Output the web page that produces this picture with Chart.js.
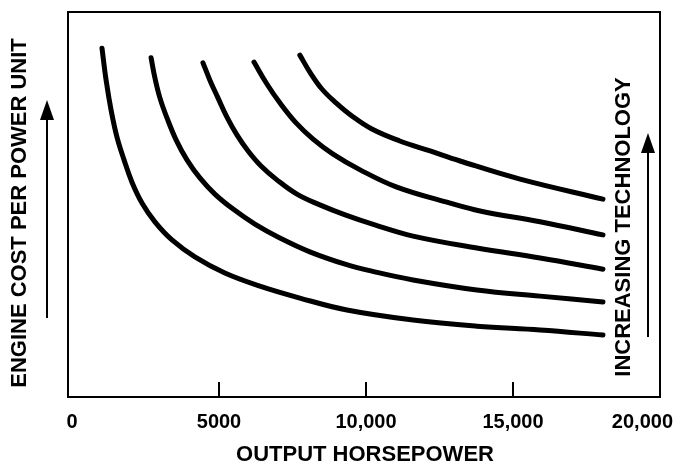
<!DOCTYPE html>
<html>
<head>
<meta charset="utf-8">
<script src="https://cdn.jsdelivr.net/npm/chart.js@4/dist/chart.umd.min.js"></script>
<style>
  html, body { margin: 0; padding: 0; background: #fff; }
  #wrap { width: 680px; height: 466px; }
</style>
</head>
<body>
<div id="wrap"><canvas id="chart"></canvas></div>
<script>
// x axis ticks
const tickValues = [0, 5000, 10000, 15000, 20000];
const tickLabels = ['0', '5000', '10,000', '15,000', '20,000'];

// each curve = one technology level (cost in arbitrary units 0..100)
const hp1 = [1020, 1160, 1330, 1530, 1770, 2040, 2380, 2820, 3400, 4180, 5200, 6390, 7750, 9350, 11600, 13770, 15920, 18060];
const cost1 = [90.6, 82.3, 74.5, 67.5, 61.6, 55.8, 50.4, 45.5, 40.8, 36.4, 32.2, 28.8, 25.7, 22.6, 20.0, 18.4, 17.4, 16.1];

const hp2 = [2690, 2820, 2990, 3230, 3540, 3910, 4350, 4860, 5480, 6220, 7070, 8090, 9290, 10300, 11600, 13770, 15920, 18060];
const cost2 = [88.1, 82.9, 77.7, 72.5, 66.8, 61.6, 56.9, 52.7, 48.8, 44.9, 41.3, 37.7, 34.5, 32.5, 30.4, 27.8, 26.2, 24.7];

const hp3 = [4455, 4690, 4965, 5270, 5610, 5990, 6430, 6970, 7650, 8430, 9290, 10300, 11600, 13770, 15920, 18060];
const cost3 = [86.8, 82.3, 77.7, 72.7, 68.1, 63.9, 60.0, 56.4, 52.7, 49.9, 47.3, 44.7, 41.8, 38.7, 36.1, 33.2];

const hp4 = [6190, 6630, 7070, 7620, 8200, 8880, 9800, 11050, 12750, 13880, 15920, 18060];
const cost4 = [87.0, 81.3, 76.4, 71.2, 67.0, 63.1, 59.0, 54.5, 50.6, 48.3, 45.5, 42.1];

const hp5 = [7750, 8090, 8500, 8980, 9520, 10200, 11150, 12180, 13200, 15240, 18060];
const cost5 = [88.8, 84.4, 80.0, 76.4, 73.0, 69.6, 66.5, 63.9, 61.3, 56.6, 51.4];

const allHp = [hp1, hp2, hp3, hp4, hp5];
const allCost = [cost1, cost2, cost3, cost4, cost5];

const FONT = '"Liberation Sans", Arial, Helvetica, sans-serif';

function arrowUp(ctx, x, yTip, yTail) {
  ctx.beginPath();
  ctx.moveTo(x, yTail);
  ctx.lineTo(x, yTip + 16);
  ctx.lineWidth = 2;
  ctx.stroke();
  ctx.beginPath();
  ctx.moveTo(x, yTip);
  ctx.lineTo(x - 7, yTip + 20);
  ctx.lineTo(x + 7, yTip + 20);
  ctx.closePath();
  ctx.fill();
}

const decorations = {
  id: 'decorations',
  afterDraw(chart) {
    const ctx = chart.ctx;
    const a = chart.chartArea;
    const xs = chart.scales.x;
    ctx.save();
    ctx.strokeStyle = '#000';
    ctx.fillStyle = '#000';

    // frame
    ctx.lineWidth = 2;
    ctx.strokeRect(a.left, a.top, a.right - a.left, a.bottom - a.top);

    // inward tick marks
    tickValues.forEach(v => {
      if (v <= 0 || v >= 20000) return;
      const px = xs.getPixelForValue(v);
      ctx.beginPath();
      ctx.moveTo(px, a.bottom);
      ctx.lineTo(px, a.bottom - 15);
      ctx.stroke();
    });

    // tick labels
    ctx.font = 'bold 20px ' + FONT;
    ctx.textBaseline = 'middle';
    ctx.textAlign = 'center';
    tickValues.forEach((v, i) => {
      const w = ctx.measureText(tickLabels[i]).width;
      let px = xs.getPixelForValue(v);
      px = Math.min(px, chart.width - 7 - w / 2);
      px = Math.max(px, 2 + w / 2);
      ctx.fillText(tickLabels[i], px, a.bottom + 25);
    });

    // axis titles
    ctx.font = 'bold 22px ' + FONT;
    ctx.fillText('OUTPUT HORSEPOWER', 365, a.bottom + 58);

    ctx.save();
    ctx.translate(20, 213);
    ctx.rotate(-Math.PI / 2);
    ctx.fillText('ENGINE COST PER POWER UNIT', 0, 0);
    ctx.restore();

    ctx.save();
    ctx.translate(624, 227);
    ctx.rotate(-Math.PI / 2);
    ctx.fillText('INCREASING TECHNOLOGY', 0, 0);
    ctx.restore();

    arrowUp(ctx, 47, 100, 318);
    arrowUp(ctx, 648, 133, 337);

    ctx.restore();
  }
};

const datasets = allHp.map((hp, k) => ({
  label: 'Technology ' + (k + 1),
  data: hp.map((x, i) => ({ x: x, y: allCost[k][i] })),
  borderColor: '#000',
  borderWidth: 5,
  borderCapStyle: 'round',
  borderJoinStyle: 'round',
  pointRadius: 0,
  fill: false,
  tension: 0.4
}));

new Chart(document.getElementById('chart'), {
  type: 'line',
  data: { datasets: datasets },
  options: {
    responsive: true,
    maintainAspectRatio: false,
    animation: false,
    layout: { padding: { left: 68, right: 20, top: 12, bottom: 69 } },
    plugins: { legend: { display: false }, tooltip: { enabled: false } },
    scales: {
      x: { type: 'linear', min: -136, max: 20000, display: false },
      y: { type: 'linear', min: 0, max: 100, display: false }
    }
  },
  plugins: [decorations]
});
</script>
</body>
</html>
